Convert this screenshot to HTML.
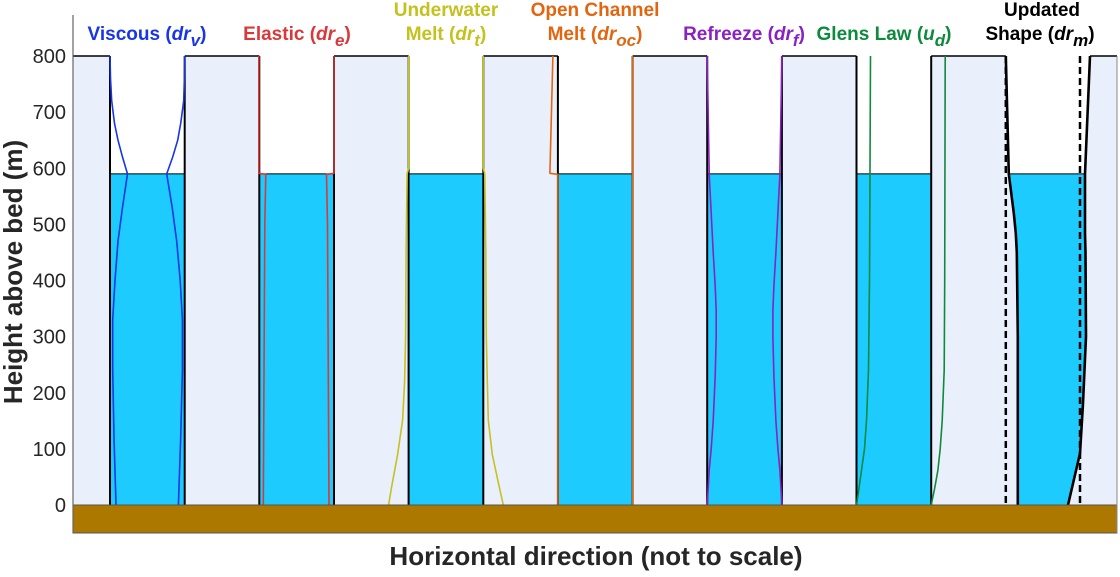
<!DOCTYPE html>
<html><head><meta charset="utf-8"><style>
body{margin:0;background:#fff;}
svg text{font-family:"Liberation Sans",Arial,sans-serif;}
</style></head><body>
<svg id="chart" width="1120" height="572" viewBox="0 0 1120 572" xmlns="http://www.w3.org/2000/svg"></svg>
<script>
// ---- data ----
const yTicks = [0,100,200,300,400,500,600,700,800];
const waterLevel = 590;
const iceTop = 800;
const seriesNames = ["viscous","elastic","underwater-melt","open-channel-melt","refreeze","glens-law","updated-shape"];
const seriesColors = ["#1836e6","#d8393a","#c3c21f","#e2650f","#8a21c2","#0d8a3e","#000000"];
// heights (m) and wall offsets (horizontal units) per series
const viscousZ = [800,760,720,680,650,620,590,530,470,400,330,240,120,0];
const viscousL = [0,0.5,1.7,4.5,8,12.5,17.5,12.5,8,5,2.7,2.7,4,6];
const viscousR = [0,-0.3,-1,-4,-7,-12,-18,-12.5,-8,-4.5,-2.3,-2.3,-4,-6.3];
const elasticZ = [800,591,589,500,0];
const elasticL = [-0.5,-0.5,6.5,5.5,4];
const elasticR = [0,0,-7.5,-6.5,-5];
const underZ = [800,600,590,450,300,220,151,90,32,0];
const underL = [0,0,-1.5,-2.5,-3,-4,-6,-11,-17,-20];
const underR = [0,0,1.5,2.5,3,4,5,9,16,20];
const openZ = [800,591,589,0];
const openL = [-5,-8,0,0];
const openR = [0,0,0,0];
const refreezeZ = [800,590,520,450,390,347,299,230,150,100,62,0];
const refreezeL = [0,2,4,6,8,9,9,8,6,4,2,0];
const refreezeR = [0,-2,-4,-6,-8,-9,-9,-8,-6,-4,-2,0];
const glenZ = [800,400,240,150,100,62,30,0];
const glenL = [14,13,12,10,8,5,2.5,0];
const glenR = [14,13.5,13,11,9,6.7,3.5,0];
const updZ = [800,590,520,484,450,300,181,92,0];
const updL = [0,3,8,10,11,12,12,12,12];
const updR = [10,5,5,5,5.5,6,3,0,-12];

// ---- axes ----
const X0=73, X1=1117, YTOP=15, Y0=505, YGROUND=533;
const y = m => Y0 - (Y0-56)*m/800;
const wallL = i => 110 + 149.3*i;
const wallR = i => wallL(i) + 74.7;
const xs = (base,d) => base + d;

const NS="http://www.w3.org/2000/svg";
const svg=document.getElementById('chart');
function mk(tag,attrs,parent){const e=document.createElementNS(NS,tag);for(const k in attrs)e.setAttribute(k,attrs[k]);(parent||svg).appendChild(e);return e;}

let e=mk('rect',{x:X0,y:y(iceTop),width:X1-X0,height:Y0-y(iceTop),fill:'#e9f0fc'});



for(let i=0;i<6;i++){
  const L=wallL(i),R=wallR(i);
  e=mk('rect',{x:L,y:y(iceTop),width:R-L,height:y(waterLevel)-y(iceTop),fill:'#fff'});
  
  
  e=mk('rect',{x:L,y:y(waterLevel),width:R-L,height:Y0-y(waterLevel),fill:'#1dcbff',stroke:'#000','stroke-width':1});
  
  
  e=mk('line',{x1:L,y1:y(iceTop),x2:L,y2:Y0,stroke:'#000','stroke-width':2});
  
  
  e=mk('line',{x1:R,y1:y(iceTop),x2:R,y2:Y0,stroke:'#000','stroke-width':2});
  
  
}
const uL=wallL(6), uR=1080;
function ptsFor(Z,D,base){return Z.map((z,k)=>[xs(base,D[k]),y(z)]);}
const updLeft=ptsFor(updZ,updL,uL), updRight=ptsFor(updZ,updR,uR);
function interpX(Z,D,base,z){for(let k=0;k<Z.length-1;k++){if(z<=Z[k]&&z>=Z[k+1]){const t=(Z[k]-z)/(Z[k]-Z[k+1]);return base+D[k]+(D[k+1]-D[k])*t;}}return base+D[D.length-1];}
function region(zTop,zBot){
  const l=[],r=[];
  const zs=[zTop,...updZ.filter(z=>z<zTop&&z>zBot),zBot];
  zs.forEach(z=>{l.push([interpX(updZ,updL,uL,z),y(z)]);r.push([interpX(updZ,updR,uR,z),y(z)]);});
  return l.concat(r.reverse()).map(p=>p.join(',')).join(' ');
}
e=mk('polygon',{points:region(iceTop,waterLevel),fill:'#fff'});


e=mk('polygon',{points:region(waterLevel,0),fill:'#1dcbff'});


e=mk('line',{x1:interpX(updZ,updL,uL,waterLevel),y1:y(waterLevel),x2:interpX(updZ,updR,uR,waterLevel),y2:y(waterLevel),stroke:'#000','stroke-width':1});



const tops=[[X0,wallL(0)]];
for(let i=0;i<6;i++)tops.push([wallR(i),wallL(i+1)]);
tops.push([xs(uR,updR[0]),X1]);
tops.forEach(t=>{e=mk('line',{x1:t[0],y1:y(iceTop),x2:t[1],y2:y(iceTop),stroke:'#000','stroke-width':1.5});

});

[uL,uR].forEach(xv=>{e=mk('line',{x1:xv,y1:y(iceTop),x2:xv,y2:Y0,stroke:'#000','stroke-width':2.5,'stroke-dasharray':'7,4'});

});

const series=[[viscousZ,viscousL,viscousR],[elasticZ,elasticL,elasticR],[underZ,underL,underR],[openZ,openL,openR],[refreezeZ,refreezeL,refreezeR],[glenZ,glenL,glenR]];
function poly(pts,color,w,name){const p=mk('polyline',{points:pts.map(q=>q.join(',')).join(' '),fill:'none',stroke:color,'stroke-width':w,'stroke-linejoin':'round'});

}
series.forEach((s,i)=>{
  poly(ptsFor(s[0],s[1],wallL(i)),seriesColors[i],1.6,seriesNames[i]+'-left-profile');
  poly(ptsFor(s[0],s[2],wallR(i)),seriesColors[i],1.6,seriesNames[i]+'-right-profile');
});
poly(updLeft,'#000',2.6,'updated-shape-left-profile');
poly(updRight,'#000',2.6,'updated-shape-right-profile');

e=mk('rect',{x:X0,y:Y0,width:X1-X0,height:YGROUND-Y0,fill:'#ad7800',stroke:'#555','stroke-width':1});



e=mk('line',{x1:X0,y1:YTOP,x2:X0,y2:YGROUND,stroke:'#666','stroke-width':1.2});


e=mk('line',{x1:X1,y1:y(iceTop),x2:X1,y2:YGROUND,stroke:'#888','stroke-width':1});


yTicks.forEach(t=>{
  const tx=mk('text',{x:66,y:y(t)+7,'text-anchor':'end','font-size':20,fill:'#262626'});
  tx.textContent=t;
  
  
});
</script>
<svg width="1120" height="572" style="position:absolute;left:0;top:0" xmlns="http://www.w3.org/2000/svg">
<g font-family="Liberation Sans, Arial, sans-serif" font-weight="bold" font-size="19">
<text x="147" y="40" text-anchor="middle" fill="#1836e6">Viscous (<tspan font-style="italic">dr</tspan><tspan font-style="italic" dy="6" font-size="17">v</tspan><tspan dy="-6">)</tspan></text>
<text x="297" y="40" text-anchor="middle" fill="#d8393a">Elastic (<tspan font-style="italic">dr</tspan><tspan font-style="italic" dy="6" font-size="17">e</tspan><tspan dy="-6">)</tspan></text>
<text x="446" y="16" text-anchor="middle" fill="#c3c21f">Underwater</text>
<text x="446" y="40" text-anchor="middle" fill="#c3c21f">Melt (<tspan font-style="italic">dr</tspan><tspan font-style="italic" dy="6" font-size="17">t</tspan><tspan dy="-6">)</tspan></text>
<text x="595" y="16" text-anchor="middle" fill="#e2650f">Open Channel</text>
<text x="595" y="40" text-anchor="middle" fill="#e2650f">Melt (<tspan font-style="italic">dr</tspan><tspan font-style="italic" dy="6" font-size="17">oc</tspan><tspan dy="-6">)</tspan></text>
<text x="744" y="40" text-anchor="middle" fill="#8a21c2">Refreeze (<tspan font-style="italic">dr</tspan><tspan font-style="italic" dy="6" font-size="17">f</tspan><tspan dy="-6">)</tspan></text>
<text x="884" y="40" text-anchor="middle" fill="#0d8a3e">Glens Law (<tspan font-style="italic">u</tspan><tspan font-style="italic" dy="6" font-size="17">d</tspan><tspan dy="-6">)</tspan></text>
<text x="1042" y="16" text-anchor="middle" fill="#000">Updated</text>
<text x="1040" y="40" text-anchor="middle" fill="#000">Shape (<tspan font-style="italic">dr</tspan><tspan font-style="italic" dy="6" font-size="17">m</tspan><tspan dy="-6">)</tspan></text>
</g>
<text x="596" y="565" text-anchor="middle" font-family="Liberation Sans, Arial, sans-serif" font-weight="bold" font-size="26" fill="#262626">Horizontal direction (not to scale)</text>
<text transform="translate(22,272) rotate(-90)" text-anchor="middle" font-family="Liberation Sans, Arial, sans-serif" font-weight="bold" font-size="26" fill="#262626">Height above bed (m)</text>
</svg>
</body></html>
